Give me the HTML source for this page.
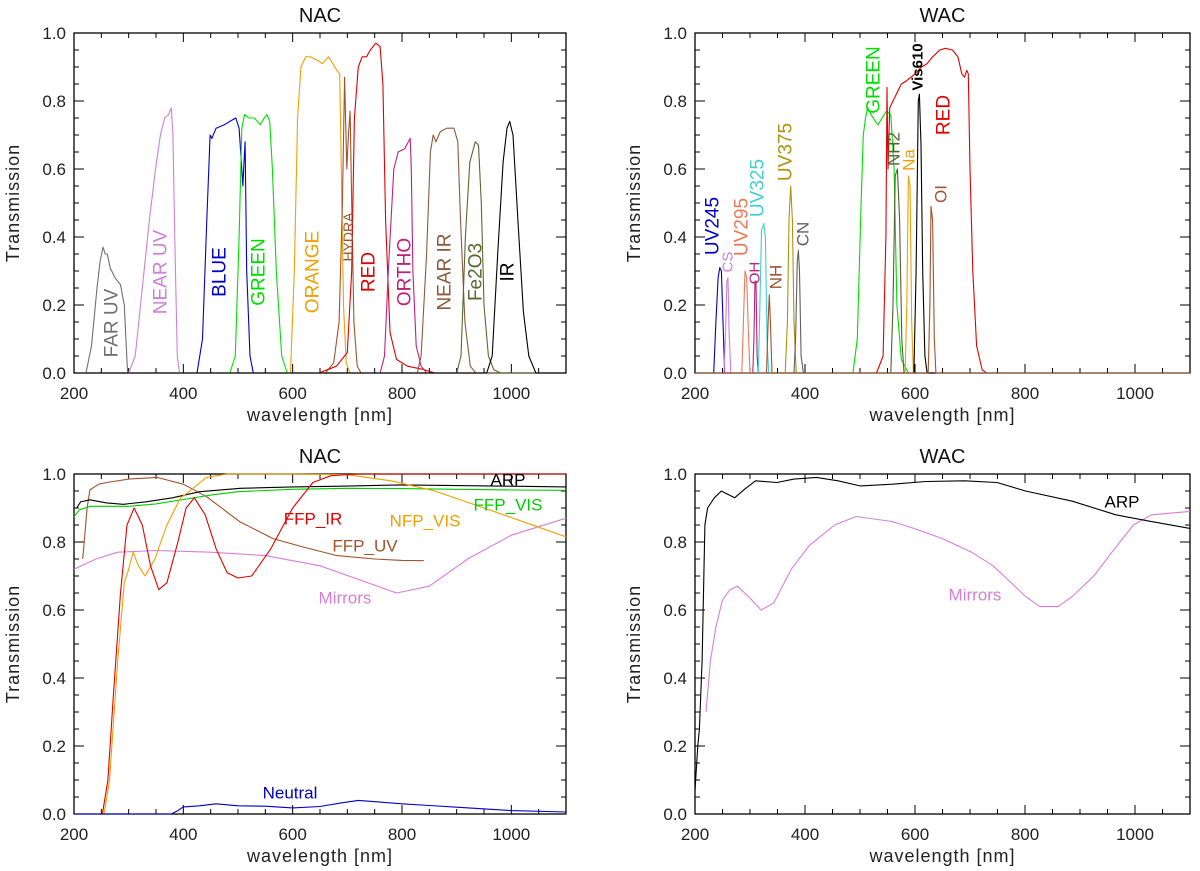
<!DOCTYPE html>
<html><head><meta charset="utf-8">
<style>
html,body{margin:0;padding:0;background:#fff;}
svg{display:block;font-family:"Liberation Sans",sans-serif;}
</style></head>
<body>
<svg id="fig" width="1200" height="871" viewBox="0 0 1200 871" xmlns="http://www.w3.org/2000/svg"></svg>
<script>
// ---------- DATA: NAC filters (wavelength nm, transmission) ----------
const nacFarUV   = [[200,0],[222,0],[232,0.08],[242,0.25],[248,0.33],[253,0.37],[257,0.35],[261,0.35],[266,0.31],[275,0.28],[285,0.26],[292,0.2],[295,0.1],[298,0],[1100,0]];
const nacNearUV  = [[200,0],[300,0],[312,0.05],[325,0.25],[338,0.45],[349,0.6],[358,0.7],[366,0.75],[373,0.76],[378,0.78],[381,0.7],[385,0.35],[389,0.05],[393,0],[1100,0]];
const nacBlue    = [[200,0],[425,0],[435,0.1],[443,0.45],[449,0.7],[452,0.69],[460,0.72],[475,0.73],[485,0.74],[496,0.75],[502,0.72],[507,0.6],[509,0.55],[511,0.62],[513,0.68],[516,0.3],[522,0.05],[528,0],[1100,0]];
const nacGreen   = [[200,0],[485,0],[495,0.05],[502,0.4],[507,0.72],[512,0.76],[520,0.75],[530,0.75],[541,0.73],[548,0.75],[553,0.76],[558,0.74],[563,0.6],[570,0.3],[580,0.05],[590,0],[1100,0]];
const nacOrange  = [[200,0],[596,0],[603,0.3],[609,0.75],[615,0.9],[624,0.93],[632,0.93],[645,0.92],[654,0.91],[660,0.92],[666,0.93],[673,0.91],[681,0.89],[686,0.88],[689,0.6],[693,0.2],[698,0.03],[705,0],[1100,0]];
const nacHydra   = [[200,0],[660,0],[675,0.03],[685,0.15],[691,0.5],[695,0.87],[699,0.6],[702,0.7],[705,0.77],[708,0.5],[712,0.15],[718,0.02],[725,0],[1100,0]];
const nacRed     = [[200,0],[648,0],[680,0.02],[700,0.06],[708,0.3],[713,0.75],[720,0.9],[727,0.93],[735,0.93],[742,0.95],[752,0.97],[760,0.96],[765,0.85],[770,0.45],[778,0.12],[790,0.04],[810,0.02],[840,0.01],[860,0],[1100,0]];
const nacOrtho   = [[200,0],[760,0],[768,0.05],[775,0.3],[785,0.6],[793,0.65],[805,0.66],[815,0.69],[817,0.6],[820,0.3],[826,0.08],[835,0.02],[845,0],[1100,0]];
const nacNearIR  = [[200,0],[828,0],[835,0.05],[845,0.35],[852,0.65],[857,0.7],[862,0.68],[870,0.71],[882,0.72],[895,0.72],[902,0.68],[907,0.45],[915,0.15],[925,0.02],[935,0],[1100,0]];
const nacFe2O3   = [[200,0],[900,0],[908,0.05],[916,0.4],[924,0.62],[934,0.68],[940,0.67],[945,0.5],[950,0.2],[958,0.05],[968,0.01],[980,0],[1100,0]];
const nacIR      = [[200,0],[955,0],[965,0.05],[975,0.35],[985,0.62],[992,0.72],[997,0.74],[1003,0.7],[1012,0.45],[1022,0.18],[1032,0.05],[1045,0],[1100,0]];

// ---------- DATA: WAC filters ----------
const wacUV245   = [[200,0],[234,0],[238,0.15],[242,0.28],[245,0.31],[248,0.3],[251,0.15],[254,0],[1100,0]];
const wacCS      = [[200,0],[253,0],[256,0.15],[258,0.27],[260,0.28],[262,0.12],[265,0],[1100,0]];
const wacUV295   = [[200,0],[285,0],[288,0.15],[291,0.3],[294,0.28],[297,0.12],[300,0],[1100,0]];
const wacOH      = [[200,0],[305,0],[307,0.1],[309,0.27],[311,0.27],[313,0.05],[315,0],[1100,0]];
const wacUV325   = [[200,0],[315,0],[318,0.2],[321,0.42],[325,0.44],[328,0.4],[331,0.1],[334,0],[1100,0]];
const wacNH      = [[200,0],[330,0],[333,0.15],[335,0.23],[337,0.15],[340,0],[1100,0]];
const wacUV375   = [[200,0],[364,0],[368,0.15],[371,0.45],[374,0.55],[377,0.45],[380,0.15],[384,0],[1100,0]];
const wacCN      = [[200,0],[380,0],[383,0.1],[386,0.33],[388,0.36],[390,0.3],[393,0.05],[397,0],[1100,0]];
const wacGreen   = [[200,0],[487,0],[495,0.1],[502,0.5],[506,0.7],[510,0.75],[514,0.78],[520,0.76],[528,0.74],[533,0.73],[540,0.75],[548,0.77],[556,0.76],[562,0.6],[567,0.2],[575,0.04],[588,0],[1100,0]];
const wacRed     = [[200,0],[530,0],[542,0.05],[547,0.4],[549,0.84],[551,0.6],[554,0.78],[560,0.8],[566,0.82],[575,0.85],[585,0.86],[600,0.88],[612,0.9],[622,0.91],[632,0.93],[645,0.95],[655,0.955],[668,0.95],[678,0.93],[685,0.88],[690,0.87],[694,0.89],[697,0.88],[700,0.6],[705,0.3],[712,0.08],[722,0.01],[730,0],[1100,0]];
const wacNH2     = [[200,0],[556,0],[560,0.2],[564,0.58],[568,0.6],[572,0.45],[576,0.1],[580,0],[1100,0]];
const wacNa      = [[200,0],[582,0],[585,0.2],[588,0.58],[591,0.55],[594,0.15],[597,0],[1100,0]];
const wacVis610  = [[200,0],[598,0],[602,0.3],[606,0.8],[608,0.82],[611,0.67],[614,0.3],[618,0.05],[622,0],[1100,0]];
const wacOI      = [[200,0],[624,0],[627,0.2],[629,0.49],[632,0.45],[635,0.1],[638,0],[1100,0]];

// ---------- DATA: NAC optics (bottom-left) ----------
const nacARP     = [[205,0.9],[212,0.918],[229,0.924],[260,0.915],[290,0.911],[330,0.918],[380,0.93],[430,0.948],[504,0.958],[600,0.962],[687,0.964],[800,0.968],[900,0.966],[1000,0.964],[1100,0.962]];
const nacFFPVIS  = [[200,0.874],[210,0.895],[230,0.905],[300,0.905],[350,0.912],[400,0.925],[450,0.938],[500,0.948],[600,0.955],[700,0.958],[800,0.957],[900,0.955],[1000,0.953],[1100,0.952]];
const nacFFPUV   = [[216,0.75],[218,0.785],[224,0.9],[229,0.953],[245,0.97],[260,0.975],[300,0.985],[352,0.99],[400,0.97],[443,0.933],[503,0.86],[564,0.81],[620,0.785],[681,0.76],[750,0.75],[800,0.746],[840,0.745]];
const nacFFPIR   = [[200,0],[252,0],[262,0.1],[272,0.35],[285,0.65],[297,0.85],[310,0.9],[325,0.85],[340,0.73],[355,0.66],[370,0.68],[390,0.8],[405,0.9],[420,0.93],[440,0.88],[460,0.78],[480,0.71],[500,0.694],[525,0.7],[560,0.78],[600,0.9],[637,0.975],[670,0.995],[720,1.0],[800,1.0],[1100,1.0]];
const nacNFPVIS  = [[200,0],[255,0],[265,0.1],[280,0.45],[292,0.68],[300,0.72],[308,0.77],[318,0.73],[330,0.7],[348,0.75],[370,0.85],[395,0.93],[412,0.95],[442,0.99],[480,1.0],[600,1.0],[700,0.998],[780,0.98],[860,0.95],[950,0.9],[1030,0.855],[1100,0.815]];
const nacMirrors = [[200,0.72],[240,0.75],[280,0.77],[350,0.775],[450,0.77],[550,0.76],[650,0.73],[720,0.69],[790,0.65],[850,0.67],[920,0.75],[1000,0.82],[1100,0.87]];
const nacNeutral = [[200,0],[378,0],[390,0.01],[400,0.021],[430,0.024],[460,0.03],[500,0.024],[550,0.023],[600,0.018],[650,0.022],[690,0.033],[720,0.04],[760,0.035],[800,0.03],[850,0.025],[900,0.02],[1000,0.01],[1100,0.006]];

// ---------- DATA: WAC optics (bottom-right) ----------
const wacARP     = [[200,0.07],[205,0.2],[208,0.25],[213,0.45],[218,0.85],[223,0.9],[235,0.93],[248,0.95],[260,0.94],[272,0.93],[290,0.955],[310,0.98],[349,0.975],[380,0.985],[421,0.99],[460,0.98],[500,0.965],[559,0.97],[620,0.978],[690,0.98],[749,0.975],[801,0.95],[886,0.92],[965,0.88],[1030,0.86],[1100,0.84]];
const wacMirrors = [[220,0.3],[228,0.45],[238,0.55],[250,0.63],[264,0.66],[277,0.67],[300,0.635],[320,0.6],[343,0.62],[375,0.72],[408,0.79],[454,0.85],[493,0.875],[559,0.86],[598,0.84],[650,0.81],[703,0.77],[742,0.73],[762,0.7],[801,0.64],[827,0.61],[860,0.61],[886,0.64],[925,0.7],[958,0.77],[997,0.85],[1030,0.88],[1100,0.89]];

// ---------- Tick definitions ----------
const yTickLabels = ["0.0","0.2","0.4","0.6","0.8","1.0"];
const yTickValues = [0,0.2,0.4,0.6,0.8,1.0];
const xTickValues = [200,400,600,800,1000];

const NS = "http://www.w3.org/2000/svg";
const svg = document.getElementById('fig');

function mk(tag, attrs, parent) {
  const e = document.createElementNS(NS, tag);
  for (const k in attrs) e.setAttribute(k, attrs[k]);
  (parent || svg).appendChild(e);
  return e;
}

function makePanel(name, x0, x1, y0, y1, title, titleY) {
  const g = mk('g', {});
  
  
  const sx = v => x0 + (v - 200) / 900 * (x1 - x0);
  const sy = v => y1 - v * (y1 - y0);
  // box
  const box = mk('rect', {x: x0, y: y0, width: x1 - x0, height: y1 - y0, fill: 'none', stroke: '#000', 'stroke-width': 1.3}, g);
  
  
  // x ticks
  for (let v = 200; v <= 1100; v += 50) {
    const major = (v % 200 === 0);
    const L = major ? 9 : 5;
    const X = sx(v);
    mk('line', {x1: X, y1: y1, x2: X, y2: y1 - L, stroke: '#000', 'stroke-width': 1}, g);
    mk('line', {x1: X, y1: y0, x2: X, y2: y0 + L, stroke: '#000', 'stroke-width': 1}, g);
  }
  for (let i = 0; i <= 20; i++) {
    const v = i * 0.05;
    const major = (i % 4 === 0);
    const L = major ? 10 : 5;
    const Y = sy(v);
    mk('line', {x1: x0, y1: Y, x2: x0 + L, y2: Y, stroke: '#000', 'stroke-width': 1}, g);
    mk('line', {x1: x1, y1: Y, x2: x1 - L, y2: Y, stroke: '#000', 'stroke-width': 1}, g);
  }
  xTickValues.forEach(v => {
    const t = mk('text', {x: sx(v), y: y1 + 26, 'text-anchor': 'middle', 'font-size': 17, fill: '#222'}, g);
    t.textContent = String(v);
    
    
  });
  yTickValues.forEach((v, i) => {
    const t = mk('text', {x: x0 - 8, y: sy(v) + 6, 'text-anchor': 'end', 'font-size': 17, fill: '#222'}, g);
    t.textContent = yTickLabels[i];
    
    
  });
  const tt = mk('text', {x: (x0 + x1) / 2, y: titleY, 'text-anchor': 'middle', 'font-size': 20, fill: '#111'}, g);
  tt.textContent = title;
  
  
  const xt = mk('text', {x: (x0 + x1) / 2, y: y1 + 48, 'text-anchor': 'middle', 'font-size': 18, fill: '#222', 'letter-spacing': 1}, g);
  xt.textContent = 'wavelength [nm]';
  
  
  const yx = x0 - 55, yc = (y0 + y1) / 2;
  const yt = mk('text', {x: yx, y: yc, 'text-anchor': 'middle', 'font-size': 18, fill: '#222', transform: `rotate(-90 ${yx} ${yc})`, 'letter-spacing': 1}, g);
  yt.textContent = 'Transmission';
  
  
  return {g, sx, sy};
}

function curve(p, data, color, nm) {
  const pts = data.map(d => p.sx(d[0]).toFixed(1) + ',' + p.sy(d[1]).toFixed(1)).join(' ');
  const e = mk('polyline', {points: pts, fill: 'none', stroke: color, 'stroke-width': 1.1, 'stroke-linejoin': 'round'}, p.g);
  
  
}

function label(p, x, y, text, color, size, rotate, nm, weight) {
  const attrs = {x: x, y: y, 'text-anchor': 'middle', 'dominant-baseline': 'central', 'font-size': size, fill: color};
  if (rotate) attrs.transform = `rotate(-90 ${x} ${y})`;
  if (weight) attrs['font-weight'] = weight;
  const t = mk('text', attrs, p.g);
  t.textContent = text;
  
  
}

// Panels
const pTL = makePanel('nac-filters-panel', 74, 566, 33, 373, 'NAC', 22);
const pTR = makePanel('wac-filters-panel', 695, 1190, 33, 373, 'WAC', 22);
const pBL = makePanel('nac-optics-panel', 74, 566, 474, 814, 'NAC', 463);
const pBR = makePanel('wac-optics-panel', 695, 1190, 474, 814, 'WAC', 463);

// NAC filters
const cGray = '#707070', cViolet = '#d080d8', cBlue = '#0000c8', cGreen = '#00dd00', cOrange = '#f0a000',
      cBrown = '#a0522d', cRed = '#e00000', cMag = '#c0207a', cNIR = '#8b5a3c', cOlive = '#556b2f';
curve(pTL, nacFarUV, cGray, 'far-uv-curve');
curve(pTL, nacNearUV, cViolet, 'near-uv-curve');
curve(pTL, nacBlue, cBlue, 'blue-curve');
curve(pTL, nacGreen, cGreen, 'green-curve');
curve(pTL, nacOrange, cOrange, 'orange-curve');
curve(pTL, nacHydra, cBrown, 'hydra-curve');
curve(pTL, nacRed, cRed, 'red-curve');
curve(pTL, nacOrtho, cMag, 'ortho-curve');
curve(pTL, nacNearIR, cNIR, 'near-ir-curve');
curve(pTL, nacFe2O3, cOlive, 'fe2o3-curve');
curve(pTL, nacIR, '#000', 'ir-curve');
label(pTL, 112, 323, 'FAR UV', cGray, 19, true, 'far-uv-label');
label(pTL, 161, 272, 'NEAR UV', cViolet, 19, true, 'near-uv-label');
label(pTL, 220, 272, 'BLUE', cBlue, 19, true, 'blue-label');
label(pTL, 259, 272, 'GREEN', cGreen, 19, true, 'green-label');
label(pTL, 313, 272, 'ORANGE', cOrange, 19, true, 'orange-label');
label(pTL, 348, 237, 'HYDRA', cBrown, 14, true, 'hydra-label');
label(pTL, 369, 272, 'RED', cRed, 19, true, 'red-label');
label(pTL, 405, 272, 'ORTHO', cMag, 19, true, 'ortho-label');
label(pTL, 445, 272, 'NEAR IR', cNIR, 19, true, 'near-ir-label');
label(pTL, 476, 272, 'Fe2O3', cOlive, 19, true, 'fe2o3-label');
label(pTL, 508, 272, 'IR', '#000', 19, true, 'ir-label');

// WAC filters
curve(pTR, wacUV245, cBlue, 'uv245-curve');
curve(pTR, wacCS, cViolet, 'cs-curve');
curve(pTR, wacUV295, '#f07858', 'uv295-curve');
curve(pTR, wacOH, cMag, 'oh-curve');
curve(pTR, wacUV325, '#40d0d0', 'uv325-curve');
curve(pTR, wacNH, cBrown, 'nh-curve');
curve(pTR, wacUV375, '#b09010', 'uv375-curve');
curve(pTR, wacCN, '#606060', 'cn-curve');
curve(pTR, wacGreen, cGreen, 'wac-green-curve');
curve(pTR, wacRed, cRed, 'wac-red-curve');
curve(pTR, wacNH2, '#506030', 'nh2-curve');
curve(pTR, wacNa, cOrange, 'na-curve');
curve(pTR, wacVis610, '#000', 'vis610-curve');
curve(pTR, wacOI, cBrown, 'oi-curve');
label(pTR, 713, 226, 'UV245', cBlue, 19, true, 'uv245-label');
label(pTR, 728, 262, 'CS', cViolet, 15, true, 'cs-label');
label(pTR, 742, 227, 'UV295', '#f07858', 19, true, 'uv295-label');
label(pTR, 755, 273, 'OH', cMag, 15, true, 'oh-label');
label(pTR, 758, 188, 'UV325', '#40d0d0', 19, true, 'uv325-label');
label(pTR, 776, 277, 'NH', cBrown, 17, true, 'nh-label');
label(pTR, 786, 152, 'UV375', '#b09010', 19, true, 'uv375-label');
label(pTR, 803, 234, 'CN', '#606060', 17, true, 'cn-label');
label(pTR, 874, 80, 'GREEN', cGreen, 19, true, 'wac-green-label');
label(pTR, 894, 149, 'NH2', '#506030', 17, true, 'nh2-label');
label(pTR, 909, 160, 'Na', cOrange, 17, true, 'na-label');
label(pTR, 918, 67, 'Vis610', '#000', 15, true, 'vis610-label', 'bold');
label(pTR, 944, 115, 'RED', cRed, 19, true, 'wac-red-label');
label(pTR, 941, 194, 'OI', cBrown, 17, true, 'oi-label');

// NAC optics
curve(pBL, nacMirrors, '#d87ed8', 'nac-mirrors-curve');
curve(pBL, nacFFPUV, cBrown, 'ffp-uv-curve');
curve(pBL, nacFFPVIS, '#00cc00', 'ffp-vis-curve');
curve(pBL, nacARP, '#000', 'nac-arp-curve');
curve(pBL, nacNFPVIS, cOrange, 'nfp-vis-curve');
curve(pBL, nacFFPIR, cRed, 'ffp-ir-curve');
curve(pBL, nacNeutral, cBlue, 'neutral-curve');
label(pBL, 313, 519, 'FFP_IR', cRed, 17, false, 'ffp-ir-label');
label(pBL, 365, 546, 'FFP_UV', cBrown, 17, false, 'ffp-uv-label');
label(pBL, 425, 521, 'NFP_VIS', cOrange, 17, false, 'nfp-vis-label');
label(pBL, 508, 505, 'FFP_VIS', '#00cc00', 17, false, 'ffp-vis-label');
label(pBL, 508, 480, 'ARP', '#000', 17, false, 'nac-arp-label');
label(pBL, 345, 598, 'Mirrors', '#d87ed8', 17, false, 'nac-mirrors-label');
label(pBL, 290, 793, 'Neutral', cBlue, 17, false, 'neutral-label');

// WAC optics
curve(pBR, wacMirrors, '#d87ed8', 'wac-mirrors-curve');
curve(pBR, wacARP, '#000', 'wac-arp-curve');
label(pBR, 1122, 502, 'ARP', '#000', 17, false, 'wac-arp-label');
label(pBR, 975, 595, 'Mirrors', '#d87ed8', 17, false, 'wac-mirrors-label');
</script>
</body></html>
